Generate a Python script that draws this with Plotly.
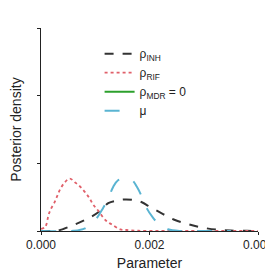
import plotly.graph_objects as go

# INH posterior (black dashed)
inh_x = [0.0, 0.0002, 0.0003, 0.00055, 0.00081, 0.00107, 0.00124, 0.00140, 0.00155, 0.00172, 0.00186, 0.0020, 0.00225, 0.00247, 0.00271, 0.00295, 0.00323, 0.0035, 0.0038, 0.004]
inh_y = [0, 0, 9, 147, 324, 568, 823, 900, 932, 910, 850, 720, 500, 324, 206, 109, 40, 12, 4, 2]

# RIF posterior (red dotted)
rif_x = [0.0, 0.000079, 0.000142, 0.000179, 0.000253, 0.0003, 0.00035, 0.00043, 0.00053, 0.00063, 0.00072, 0.00082, 0.00089, 0.00096, 0.00106, 0.0012, 0.0013, 0.00146, 0.00157, 0.0018, 0.0022, 0.0026, 0.004]
rif_y = [60, 126, 491, 638, 862, 1038, 1226, 1420, 1550, 1432, 1315, 1126, 979, 785, 588, 303, 197, 50, 29, 8, 2, 0, 0]

# MDR = 0 (green solid, not visible in plot)
mdr_x = [None]
mdr_y = [None]

# mu posterior (blue long dashed)
mu_x = [0.0, 0.0006, 0.00081, 0.0010, 0.00114, 0.00124, 0.00133, 0.00142, 0.00155, 0.00168, 0.00177, 0.00186, 0.00195, 0.00206, 0.00219, 0.00234, 0.00256, 0.0030, 0.0035]
mu_y = [0, 5, 79, 323, 668, 962, 1303, 1500, 1550, 1500, 1303, 1009, 668, 403, 176, 50, 0, 0, 0]

fig = go.Figure()
fig.add_trace(go.Scatter(x=inh_x, y=inh_y, mode="lines", name="ρ<sub>INH</sub>",
                         line=dict(color="#333333", width=2, dash="dash", shape="spline")))
fig.add_trace(go.Scatter(x=rif_x, y=rif_y, mode="lines", name="ρ<sub>RIF</sub>",
                         line=dict(color="#e0606a", width=1.8, dash="dot", shape="spline")))
fig.add_trace(go.Scatter(x=mdr_x, y=mdr_y, mode="lines", name="ρ<sub>MDR</sub> = 0",
                         line=dict(color="#2ca02c", width=2)))
fig.add_trace(go.Scatter(x=mu_x, y=mu_y, mode="lines", name="μ",
                         line=dict(color="#5ab4d2", width=2, dash="longdash", shape="spline")))

fig.update_layout(
    width=273, height=265,
    margin=dict(l=33, r=23, t=20, b=42),
    paper_bgcolor="white", plot_bgcolor="white",
    font=dict(family="Liberation Sans, Arial, sans-serif", size=12, color="#222222"),
    showlegend=True,
    legend=dict(x=0.27, y=0.945, xanchor="left", yanchor="top",
                bgcolor="rgba(0,0,0,0)", font=dict(size=12),
                tracegroupgap=0, itemwidth=30),
    xaxis=dict(range=[0, 0.004], tickvals=[0, 0.002, 0.004],
               ticktext=["0.000", "0.002", "0.004"],
               showgrid=False, zeroline=False, showline=True, linecolor="#222222",
               linewidth=1, ticks="outside", ticklen=3, tickcolor="#222222",
               title=dict(text="Parameter", standoff=6), automargin=False),
    yaxis=dict(range=[0, 6000], tickvals=[0, 2000, 4000, 6000], showticklabels=False,
               showgrid=False, zeroline=False, showline=True, linecolor="#222222",
               linewidth=1, ticks="outside", ticklen=3, tickcolor="#222222",
               title=dict(text="Posterior density", standoff=12), automargin=False),
)

fig.write_html("out.html")
